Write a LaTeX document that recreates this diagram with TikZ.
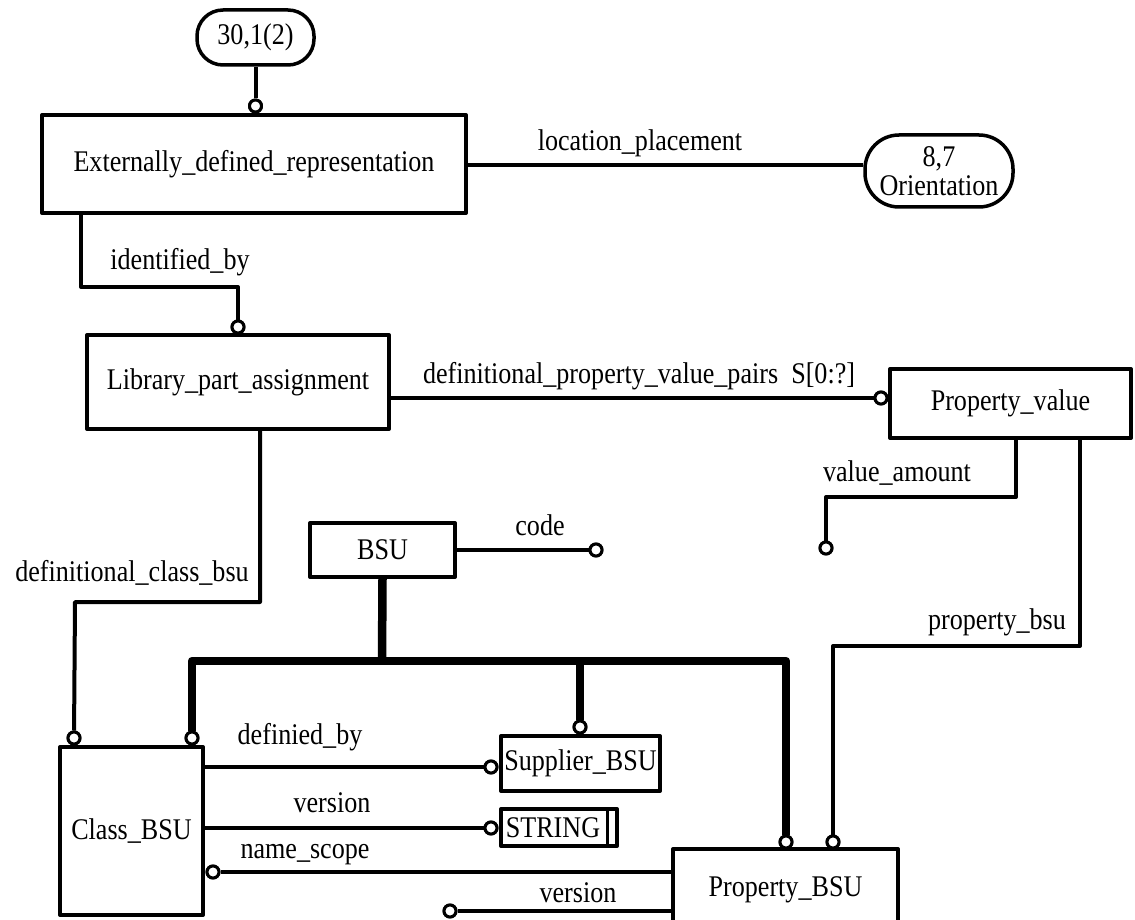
\documentclass[tikz,border=0pt]{standalone}
\usepackage{fontspec}
\setmainfont{Liberation Serif}[FakeStretch=0.87]
\usetikzlibrary{calc}
\begin{document}
\begin{tikzpicture}[x=1pt,y=-1pt,
  line join=round,
  every node/.style={font=\fontsize{30}{29}\selectfont},
  entity/.style={draw,line width=4pt,rectangle,inner sep=0pt},
  ext/.style={draw,line width=3.5pt,rectangle,inner sep=0pt,align=center},
  link/.style={line width=4pt},
  super/.style={line width=8.5pt},
  ring/.style={circle,draw,line width=3pt,fill=white,inner sep=0pt,minimum size=12pt},
  lbl/.style={inner sep=0pt}]
\useasboundingbox[fill=white] (0,0) rectangle (1135,920);

% entities
\node[ext,rounded corners=26pt,minimum width=117pt,minimum height=55pt] (top30) at (255.5,37.5) {30,1(2)};
\node[entity,minimum width=424pt,minimum height=98pt] (edr) at (254,164) {Externally\_defined\_representation};
\node[ext,rounded corners=34pt,minimum width=148pt,minimum height=72pt] (orient) at (939,171) {8,7\\Orientation};
\node[entity,minimum width=302pt,minimum height=94pt] (lpa) at (238,382) {Library\_part\_assignment};
\node[entity,minimum width=241pt,minimum height=69pt] (pv) at (1010.5,403.5) {Property\_value};
\node[entity,minimum width=145pt,minimum height=54pt] (bsu) at (382.5,550) {BSU};
\node[entity,minimum width=143pt,minimum height=168pt] (cbsu) at (131.5,831) {Class\_BSU};
\node[entity,minimum width=159pt,minimum height=55pt] (sup) at (580.5,763.5) {Supplier\_BSU};
\node[entity,minimum width=116pt,minimum height=37pt] (str) at (559,827.5) {STRING\hspace*{12pt}};
\node[entity,minimum width=225pt,minimum height=81pt] (pbsu) at (785.5,889.5) {Property\_BSU};
\draw[line width=3pt] ($(str.north east)+(-12,0)$) -- ($(str.south east)+(-12,0)$);

% ring ends
\node[ring] (r1) at (255.5,106) {};
\node[ring] (r2) at (238,327) {};
\node[ring] (r3) at (881,398) {};
\node[ring] (r4) at (826,548) {};
\node[ring] (r5) at (596,550) {};
\node[ring] (r6) at (74,738) {};
\node[ring] (r7) at (192,738) {};
\node[ring] (r8) at (580,727) {};
\node[ring] (r9) at (491,767) {};
\node[ring] (r10) at (491,828) {};
\node[ring] (r11) at (786,842) {};
\node[ring] (r12) at (833,842) {};
\node[ring] (r13) at (213,872) {};
\node[ring] (r14) at (450,911) {};

% relationships
\draw[link] (top30.south) -- (r1);
\draw[link] (edr.east |- 0,165) -- (orient.west |- 0,165);
\node[lbl] (l1) at (640,143) {location\_placement};

\draw[link] (edr.south -| 81,0) -- (81,287) -- (238,287) -- (r2);
\node[lbl] (l2) at (180,262) {identified\_by};

\draw[link] (lpa.east |- r3) -- (r3);
\node[lbl] (l3) at (639,376) {definitional\_property\_value\_pairs\ \ S[0:?]};

\draw[link] (pv.south -| 1016,0) -- (1016,497) -- (826,497) -- (r4);
\node[lbl] (l4) at (897,473) {value\_amount};

\draw[link] (pv.south -| 1080,0) -- (1080,646) -- (833,646) -- (r12);
\node[lbl] (l5) at (997,622) {property\_bsu};

\draw[link] (lpa.south -| 260,0) -- (260,602) -- (75,602) -- (r6);
\node[lbl] (l6) at (132,573) {definitional\_class\_bsu};

\draw[link] (bsu.east) -- (r5);
\node[lbl] (l7) at (540,525) {code};

% supertype tree
\draw[super] (bsu.south) -- (382,661);
\draw[super] (r7) -- (192,661) -- (786,661) -- (r11);
\draw[super] (580,661) -- (r8);

\draw[link] (cbsu.east |- r9) -- (r9);
\node[lbl] (l8) at (300,737) {definied\_by};
\draw[link] (cbsu.east |- r10) -- (r10);
\node[lbl] (l9) at (332,803) {version};
\draw[link] (pbsu.west |- r13) -- (r13);
\node[lbl] (l10) at (305,855) {name\_scope};
\draw[link] (pbsu.west |- r14) -- (r14);
\node[lbl] (l11) at (578,893) {version};

% redraw rings on top of the lines
\foreach \r in {r1,r2,r3,r4,r5,r6,r7,r8,r9,r10,r11,r12,r13,r14}
  \node[ring] at (\r) {};
\end{tikzpicture}
\end{document}
